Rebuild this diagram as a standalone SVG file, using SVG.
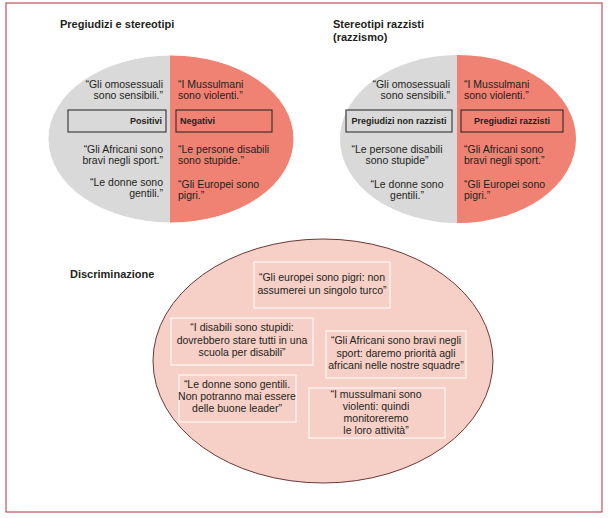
<svg xmlns="http://www.w3.org/2000/svg" width="608" height="518" viewBox="0 0 608 518">
<style>
text{font-family:"Liberation Sans",Arial,sans-serif;font-size:10.5px;fill:#231f20}
.t{font-weight:bold;font-size:11px}
.b{font-weight:bold;font-size:9px}
.m{text-anchor:middle}.e{text-anchor:end}
.lb{fill:none;stroke:#231f20;stroke-width:1}
.wb{fill:none;stroke:#fff;stroke-width:1}
</style>
<rect x="6" y="3" width="596" height="509" fill="#fff" stroke="#b0303a" stroke-width="1"/>
<defs>
<clipPath id="cl"><rect x="0" y="0" width="170" height="300"/></clipPath>
<clipPath id="cr"><rect x="170" y="0" width="200" height="300"/></clipPath>
<clipPath id="cl2"><rect x="300" y="0" width="157" height="300"/></clipPath>
<clipPath id="cr2"><rect x="457" y="0" width="200" height="300"/></clipPath>
</defs>
<text class="t" x="60" y="28">Pregiudizi e stereotipi</text>
<text class="t" x="333" y="28">Stereotipi razzisti</text>
<text class="t" x="333" y="41">(razzismo)</text>
<text class="t" x="70" y="278">Discriminazione</text>
<g id="left">
<ellipse cx="171" cy="139" rx="123" ry="84" fill="#d9d9d9" clip-path="url(#cl)"/>
<ellipse cx="171" cy="139" rx="123" ry="84" fill="#ef8272" clip-path="url(#cr)"/>
<ellipse cx="171" cy="139" rx="123" ry="84" fill="none" stroke="#fff" stroke-width="1"/>
<text class="e" x="163" y="88">“Gli omosessuali</text><text class="e" x="163" y="99">sono sensibili.”</text>
<text x="178" y="88">“I Mussulmani</text><text x="178" y="99">sono violenti.”</text>
<g id="pos"><rect class="lb" x="68" y="110" width="98" height="22"/><text class="b e" x="162" y="124">Positivi</text></g>
<g id="neg"><rect class="lb" x="176" y="110" width="96" height="22"/><text class="b" x="180" y="124">Negativi</text></g>
<text class="e" x="163" y="153">“Gli Africani sono</text><text class="e" x="163" y="164">bravi negli sport.”</text>
<text class="e" x="163" y="186">“Le donne sono</text><text class="e" x="163" y="197">gentili.”</text>
<text x="178" y="153">“Le persone disabili</text><text x="178" y="164">sono stupide.”</text>
<text x="178" y="188">“Gli Europei sono</text><text x="178" y="199">pigri.”</text>
</g>
<g id="right">
<ellipse cx="458" cy="139" rx="118" ry="84" fill="#d9d9d9" clip-path="url(#cl2)"/>
<ellipse cx="458" cy="139" rx="118" ry="84" fill="#ef8272" clip-path="url(#cr2)"/>
<text class="e" x="450" y="88">“Gli omosessuali</text><text class="e" x="450" y="99">sono sensibili.”</text>
<text x="464" y="88">“I Mussulmani</text><text x="464" y="99">sono violenti.”</text>
<g id="nonrazz"><rect class="lb" x="346" y="110" width="106" height="22"/><text class="b m" x="399" y="124">Pregiudizi non razzisti</text></g>
<g id="razz"><rect class="lb" x="461" y="110" width="102" height="22"/><text class="b m" x="512" y="124">Pregiudizi razzisti</text></g>
<text class="m" x="397" y="153">“Le persone disabili</text><text class="m" x="397" y="164">sono stupide”</text>
<text class="m" x="407" y="188">“Le donne sono</text><text class="m" x="407" y="199">gentili.”</text>
<text x="464" y="153">“Gli Africani sono</text><text x="464" y="164">bravi negli sport.”</text>
<text x="464" y="188">“Gli Europei sono</text><text x="464" y="199">pigri.”</text>
</g>
<g id="discr">
<ellipse cx="323" cy="361" rx="170" ry="122" fill="#f6cfc6" stroke="#6b3a36" stroke-width="1"/>
<g id="d1"><rect class="wb" x="254" y="262" width="136" height="46"/><text class="m" x="322" y="281">“Gli europei sono pigri: non</text><text class="m" x="322" y="294">assumerei un singolo turco”</text></g>
<g id="d2"><rect class="wb" x="171" y="318" width="142" height="47"/><text class="m" x="242" y="331">“I disabili sono stupidi:</text><text class="m" x="242" y="344">dovrebbero stare tutti in una</text><text class="m" x="242" y="356">scuola per disabili”</text></g>
<g id="d3"><rect class="wb" x="326" y="331" width="140" height="47"/><text class="m" x="396" y="344">“Gli Africani sono bravi negli</text><text class="m" x="396" y="357">sport: daremo priorità agli</text><text class="m" x="396" y="369">africani nelle nostre squadre”</text></g>
<g id="d4"><rect class="wb" x="179" y="375" width="117" height="47"/><text class="m" x="237" y="388">“Le donne sono gentili.</text><text class="m" x="237" y="400">Non potranno mai essere</text><text class="m" x="237" y="412">delle buone leader”</text></g>
<g id="d5"><rect class="wb" x="309" y="388" width="136" height="50"/><text class="m" x="376" y="398">“I mussulmani sono</text><text class="m" x="376" y="410">violenti: quindi</text><text class="m" x="376" y="422">monitoreremo</text><text class="m" x="376" y="434">le loro attività”</text></g>
</g>
<g id="connectors"/>
</svg>
